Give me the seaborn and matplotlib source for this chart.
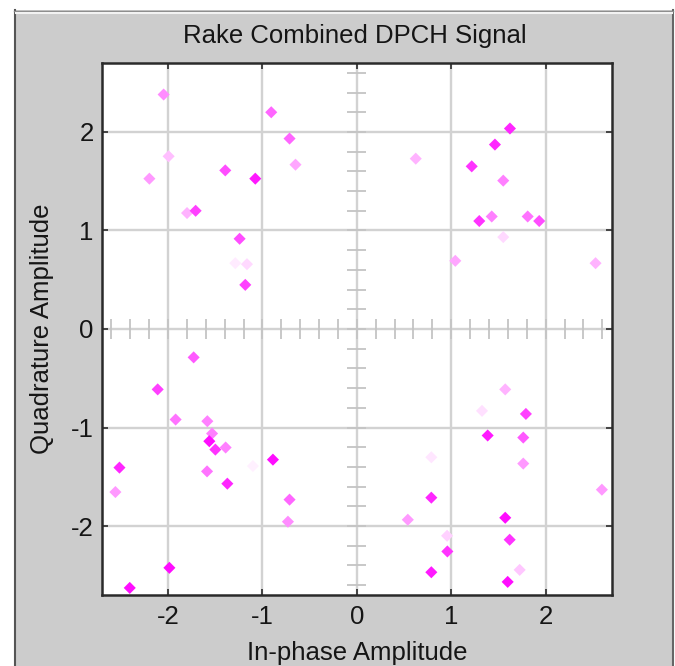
import numpy as np
import pandas as pd
import matplotlib
matplotlib.use("Agg")
import matplotlib.pyplot as plt
import seaborn as sns
from matplotlib.patches import Rectangle

# ---- data ----
i_vals = [-2.047, -0.907, -0.713, -1.994, -0.650, -2.198, -1.394, -1.076, -1.799, -1.708,
          -1.242, -1.288, -1.164, -1.182,
          0.624, 1.622, 1.463, 1.217, 1.551, 1.297, 1.429, 1.810, 1.932, 1.551, 1.043, 2.529,
          -1.729, -2.110, -1.920, -1.584, -1.534, -1.563, -1.499, -1.390, -2.515, -1.587,
          -1.101, -0.889, -1.372, -2.558, -0.713, -0.730, -1.986, -2.406,
          1.572, 1.326, 1.791, 1.386, 1.763, 0.789, 1.763, 2.596, 0.789, 0.540, 1.572,
          0.956, 1.619, 0.959, 1.725, 0.789, 1.598]
q_vals = [2.380, 2.200, 1.933, 1.753, 1.668, 1.526, 1.610, 1.526, 1.177, 1.200,
          0.916, 0.668, 0.658, 0.448,
          1.729, 2.035, 1.872, 1.651, 1.506, 1.096, 1.142, 1.142, 1.096, 0.933, 0.692, 0.668,
          -0.288, -0.613, -0.919, -0.936, -1.061, -1.139, -1.224, -1.203, -1.407, -1.445,
          -1.391, -1.326, -1.570, -1.655, -1.732, -1.956, -2.424, -2.628,
          -0.613, -0.831, -0.862, -1.081, -1.102, -1.302, -1.366, -1.631, -1.712, -1.936, -1.916,
          -2.099, -2.139, -2.258, -2.445, -2.469, -2.567]
intensity = [0.45, 0.60, 0.60, 0.25, 0.35, 0.40, 0.70, 0.90, 0.30, 0.75,
             0.70, 0.08, 0.15, 0.75,
             0.30, 0.85, 0.85, 0.80, 0.50, 0.80, 0.50, 0.55, 0.70, 0.15, 0.35, 0.30,
             0.65, 0.75, 0.55, 0.50, 0.50, 0.95, 0.80, 0.50, 0.85, 0.55,
             0.06, 0.95, 0.85, 0.40, 0.60, 0.45, 0.95, 0.95,
             0.30, 0.12, 0.75, 0.90, 0.65, 0.10, 0.40, 0.40, 0.85, 0.40, 0.95,
             0.18, 0.80, 0.80, 0.22, 0.90, 0.95]
x_ticks = [-2, -1, 0, 1, 2]
y_ticks = [-2, -1, 0, 1, 2]
title = "Rake Combined DPCH Signal"
x_label = "In-phase Amplitude"
y_label = "Quadrature Amplitude"

# fading magenta on white
colors = [(1.0, 1.0 - a, 1.0) for a in intensity]
df = pd.DataFrame({"I": i_vals, "Q": q_vals, "k": range(len(i_vals))})

plt.rcParams['font.family'] = ['Liberation Sans', 'DejaVu Sans']
FS = 18.5
TXT = '#151515'

fig = plt.figure(figsize=(6.75, 6.66), dpi=100)
fig.patch.set_facecolor('white')
W, H = 675.0, 666.0

# grey MATLAB-like panel on a background axes
bg = fig.add_axes([0, 0, 1, 1], zorder=-10)
bg.set_xlim(0, W)
bg.set_ylim(H, 0)
bg.axis('off')
bg.add_patch(Rectangle((14, 10), 673 - 14, H - 10, facecolor='#cccccc', edgecolor='none'))
bg.plot([14.5, 14.5], [10, H], color='#555555', lw=1.5)
bg.plot([672.5, 672.5], [10, H], color='#666666', lw=1.5)
bg.plot([14, 673], [10.5, 10.5], color='#8a8a8a', lw=1.0)
bg.plot([15.5, 672], [12.5, 12.5], color='#f2f2f2', lw=1.5)

ax = fig.add_axes([102 / W, (H - 595) / H, (611.7 - 102) / W, (595 - 63) / H], zorder=1)
ax.set_facecolor('white')

sns.scatterplot(data=df, x="I", y="Q", hue="k", palette=colors, legend=False,
                marker='D', s=38, linewidth=0, ax=ax, zorder=3)

ax.set_xlim(-2.7, 2.7)
ax.set_ylim(-2.7, 2.7)
ax.set_xticks(x_ticks)
ax.set_yticks(y_ticks)
ax.set_xticklabels([str(v) for v in x_ticks])
ax.set_yticklabels([str(v) for v in y_ticks])

ax.grid(True, color='#d2d2d2', lw=1.7, zorder=1)
ax.set_axisbelow(True)

# centre crosshair minor ticks
tk = np.round(np.arange(-2.6, 2.61, 0.2), 2)
ax.vlines(tk, -0.1, 0.1, color='#c4c4c4', lw=1.3, zorder=2)
ax.hlines(tk, -0.1, 0.1, color='#c4c4c4', lw=1.3, zorder=2)

for sp in ax.spines.values():
    sp.set_color('#2a2a2a')
    sp.set_linewidth(1.8)
ax.tick_params(direction='in', top=True, right=True, length=4, width=1.2,
               color='#2a2a2a', labelsize=FS, labelcolor=TXT)
ax.tick_params(axis='x', pad=7)
ax.tick_params(axis='y', pad=6)

ax.set_xlabel(x_label, fontsize=FS, color=TXT)
ax.set_ylabel(y_label, fontsize=FS, color=TXT)
ax.xaxis.label.set_va('center')
ax.yaxis.label.set_va('center')
ax.xaxis.set_label_coords(0.5, (595 - 653) / 532.0)
ax.yaxis.set_label_coords((42 - 102) / 509.7, 0.5)

fig.text(355 / W, 1 - 36 / H, title, ha='center', va='center', fontsize=FS, color=TXT)

fig.savefig("out.png", dpi=100, facecolor=fig.get_facecolor())
